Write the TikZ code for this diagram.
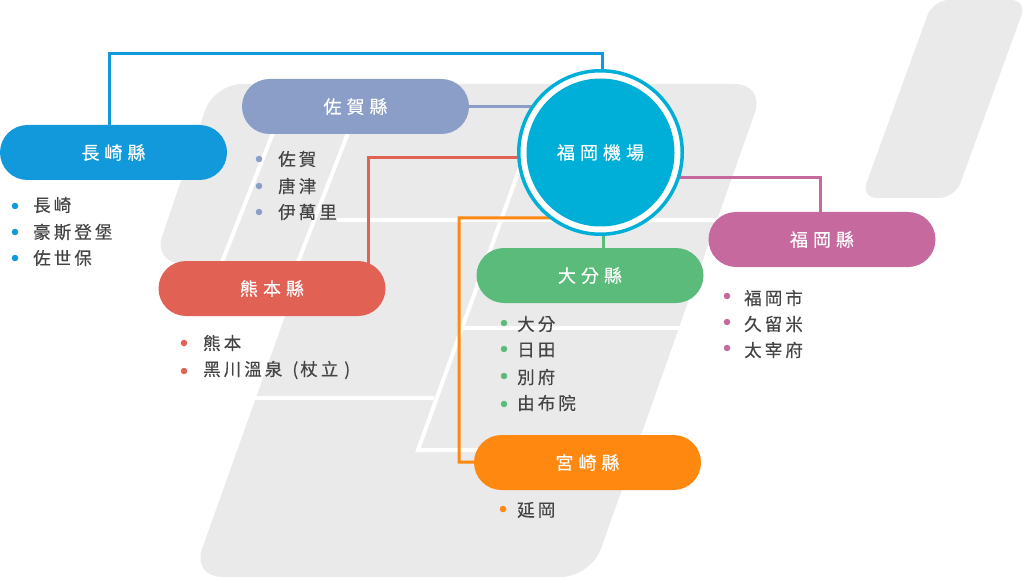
\documentclass[tikz,border=0pt]{standalone}
\usepackage{fontspec}
\newfontfamily\cjk[LetterSpace=17.5,FakeBold=0.25]{Noto Sans CJK TC}
\newfontfamily\cjkhead[LetterSpace=28,FakeBold=0.35]{Noto Sans CJK TC}
\definecolor{greybg}{HTML}{EAEAEA}
\definecolor{cNaga}{HTML}{1199DB}
\definecolor{cSaga}{HTML}{8A9EC8}
\definecolor{cKuma}{HTML}{E16155}
\definecolor{cOita}{HTML}{5ABB7B}
\definecolor{cMiya}{HTML}{FF8811}
\definecolor{cFuku}{HTML}{C5699F}
\definecolor{cAir}{HTML}{00AFD8}
\definecolor{txt}{HTML}{444444}
\pgfdeclarelayer{bg}
\pgfdeclarelayer{conn}
\pgfsetlayers{bg,conn,main}
\tikzset{
  pill/.style={fill=#1,rounded corners=27.5pt,minimum width=227pt,minimum height=55pt,inner sep=0pt,text=white,font=\cjkhead\fontsize{18}{20}\selectfont},
  dotmark/.style={circle,fill=#1,minimum size=6.5pt,inner sep=0pt},
  item/.style={anchor=west,inner sep=0pt,text=txt,font=\cjk\fontsize{17.5}{20}\selectfont},
  link/.style={line width=3pt,color=#1},
  gap/.style={line width=4pt,white},
}
\begin{document}
\begin{tikzpicture}[x=1pt,y=-1pt]
\useasboundingbox (0,0) rectangle (1024,577);
% pills
\node[pill=cNaga] (naga) at (113.5,152.5) {長崎縣};
\node[pill=cSaga] (saga) at (355.5,106.5) {佐賀縣};
\node[pill=cKuma] (kuma) at (272,288.5) {熊本縣};
\node[pill=cOita] (oita) at (590,275.5) {大分縣};
\node[pill=cMiya] (miya) at (587.5,462.5) {宮崎縣};
\node[pill=cFuku] (fuku) at (822,239.5) {福岡縣};
% airport
\node[circle,draw=cAir,line width=3.5pt,fill=white,minimum size=163.5pt,inner sep=0pt,outer sep=1.75pt] (air) at (600.5,152.5) {};
\node[circle,fill=cAir,minimum size=148pt,inner sep=0pt,text=white,font=\cjkhead\fontsize{18}{20}\selectfont] (airin) at (air.center) {福岡機場};
% lists
\foreach \nm/\dx/\tx/\dy/\ty/\col/\lab in {
  a/15/33/206/205/cNaga/長崎, b/15/33/232/232/cNaga/豪斯登堡, c/15/33/258/258/cNaga/佐世保,
  d/259/278/159/159/cSaga/佐賀, e/259/278/186/186/cSaga/唐津, f/259/278/212/212/cSaga/伊萬里,
  g/184/203/343/343/cKuma/熊本, h/184/203/371/370/cKuma/黑川溫泉 \kern3pt(\kern2pt杖立\kern6pt),
  i/504/517/323/324/cOita/大分, j/504/517/349/350/cOita/日田, k/504/517/376/377/cOita/別府, l/504/517/404/403/cOita/由布院,
  m/503/517/509/510/cMiya/延岡,
  n/727/744/296/298/cFuku/福岡市, o/727/744/322/324/cFuku/久留米, p/727/744/348/350/cFuku/太宰府}
{
  \node[dotmark=\col] (dot\nm) at (\dx,\dy) {};
  \node[item] (txt\nm) at (\tx,\ty) {\lab};
}
% turning points of connectors
\coordinate (nagaA) at (109,54);
\coordinate (nagaB) at (602,54);
\coordinate (kumaA) at (368,158);
\coordinate (miyaA) at (459,462);
\coordinate (miyaB) at (459,218);
\coordinate (fukuA) at (820,178);
\begin{pgfonlayer}{conn}
  \draw[link=cNaga] (naga.center -| nagaA) -- (nagaA) -- (nagaB) -- (air.north -| nagaB);
  \draw[link=cSaga] (saga.center) -- (air.center |- saga.center);
  \draw[link=cKuma] (kuma.center -| kumaA) -- (kumaA) -- (air.center |- kumaA);
  \draw[link=cOita] (air.center -| oita.center) ++(13,0) -- ++(0,100);
  \draw[link=cMiya] (miya.center) -- (miyaA) -- (miyaB) -- (air.center |- miyaB);
  \draw[link=cFuku] (air.center |- fukuA) -- (fukuA) -- (fuku.center -| fukuA);
\end{pgfonlayer}
\begin{pgfonlayer}{bg}
  % main island
  \fill[greybg,rounded corners=30pt] (214,84) -- (765,84) -- (591,577) -- (192,577)
     [sharp corners] -- (304,263) [rounded corners=28pt] -- (153,263) -- cycle;
  % corner island
  \fill[greybg,rounded corners=16pt] (933,0) -- (1027,0) -- (955,198) -- (861,198) -- cycle;
  % white road lines
  \draw[gap] (286,100) -- (222,262);
  \draw[gap] (353,120) -- (298,262);
  \draw[gap] (337,220) -- (724,220);
  \draw[gap] (463,328) -- (684,328);
  \draw[gap] (250,398) -- (434,398);
  \draw[gap,line cap=round] (540,112) -- (418,450) -- (480,450);
\end{pgfonlayer}
\end{tikzpicture}
\end{document}
